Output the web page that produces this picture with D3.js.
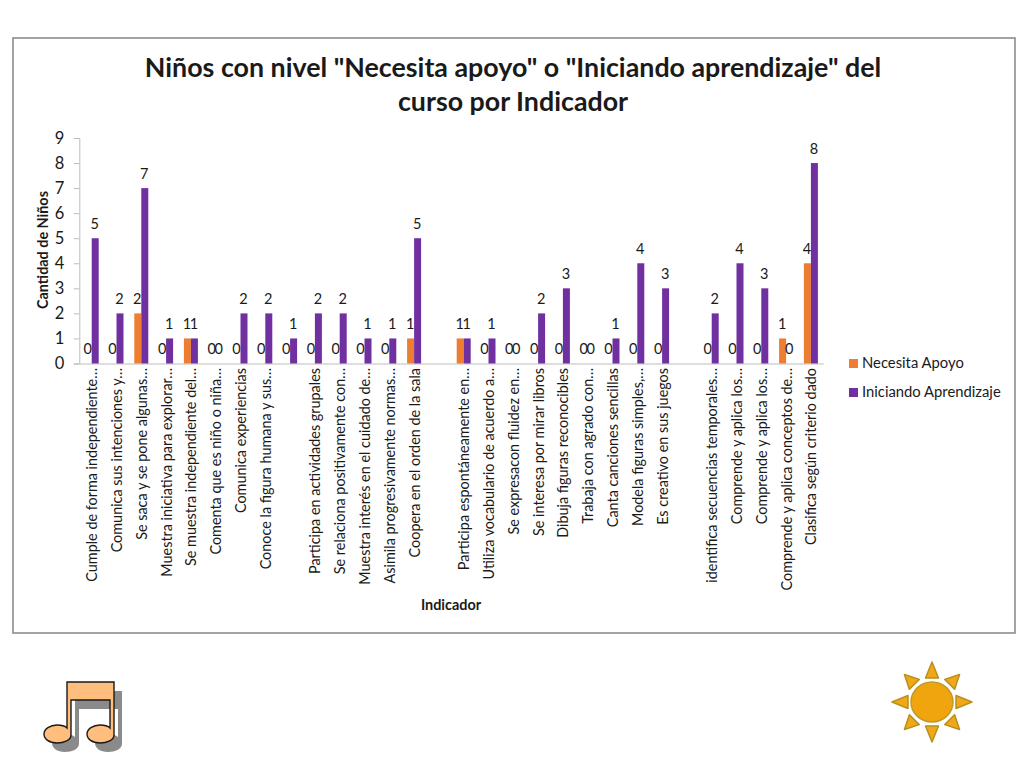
<!DOCTYPE html>
<html><head><meta charset="utf-8">
<script src="https://cdn.jsdelivr.net/npm/d3@7"></script>
<style>html,body{margin:0;padding:0;background:#fff}svg{display:block}text{font-family:Lato,"Open Sans",sans-serif;fill:#1a1a1a}</style>
</head><body><div id="c"></div>
<script>
const chartTitle = ['Niños con nivel "Necesita apoyo" o "Iniciando aprendizaje" del','curso por Indicador'];
const yTitle = 'Cantidad de Niños';
const xTitle = 'Indicador';
const seriesNames = ['Necesita Apoyo','Iniciando Aprendizaje'];
const seriesColors = ['#ED7D31','#7030A0'];
const categories = [
 'Cumple de forma independiente…','Comunica sus intenciones y…','Se saca y se pone algunas…','Muestra iniciativa para explorar…',
 'Se muestra independiente del…','Comenta que es niño o niña…','Comunica experiencias','Conoce la figura humana y sus…',' ',
 'Participa en actividades grupales','Se relaciona positivamente con…','Muestra interés en el cuidado de…','Asimila progresivamente normas…',
 'Coopera en el orden de la sala','  ','Participa espontáneamente en…','Utiliza vocabulario de acuerdo a…','Se expresacon fluidez en…',
 'Se interesa por mirar libros','Dibuja figuras reconocibles','Trabaja con agrado con…','Canta canciones sencillas','Modela figuras simples,…',
 'Es creativo en sus juegos','   ','identifica secuencias temporales…','Comprende y aplica los…','Comprende y aplica los… ','Comprende y aplica conceptos de…','Clasifica según criterio dado'];
const necesitaApoyo = [0,0,2,0,1,0,0,0,0,0,0,0,0,1,null,1,0,0,0,0,0,0,0,0,null,0,0,0,1,4];
const iniciandoAprendizaje = [5,2,7,1,1,0,2,2,1,2,2,1,1,5,null,1,1,0,2,3,0,1,4,3,null,2,4,3,0,8];
const yTicks = [0,1,2,3,4,5,6,7,8,9];

const svg = d3.select('#c').append('svg').attr('width',1024).attr('height',768);
svg.append('rect').attr('x',13).attr('y',38).attr('width',1002).attr('height',595).attr('fill','#fff').attr('stroke','#8c8c8c').attr('stroke-width',1.6);

const x = d3.scaleBand().domain(categories).range([79.3,823.3]);
const y = d3.scaleLinear().domain([0,9]).range([363.5,138]);
const barW = 7;
const axisColor = '#bdbdbd';

const title = svg.append('text').attr('text-anchor','middle').attr('font-weight',700).attr('font-size',26.8);
chartTitle.forEach((t,i)=>title.append('tspan').attr('x',513).attr('y',i?111:77).text(t));

const yAxis = svg.append('g').attr('transform','translate(79.3,0)').call(d3.axisLeft(y).tickValues(yTicks).tickSize(5.5).tickPadding(9.5).tickFormat(d3.format('d')));
yAxis.selectAll('path,line').attr('stroke',axisColor).attr('stroke-width',1);
yAxis.selectAll('text').attr('font-size',16.5).style('font-family','Lato').attr('fill','#1a1a1a');

const xAxis = svg.append('g').attr('transform','translate(0,363.5)').call(d3.axisBottom(x).tickSize(0).tickFormat(''));
xAxis.select('path').attr('stroke',axisColor).attr('stroke-width',1);

const series = [necesitaApoyo, iniciandoAprendizaje];
series.forEach((vals,s)=>{
  const g = svg.append('g');
  const rows = vals.map((v,i)=>({v,c:categories[i]})).filter(d=>d.v!==null);
  const bx = d => x(d.c)+x.bandwidth()/2 + (s===0?-barW:0);
  g.selectAll('rect').data(rows).join('rect')
    .attr('x',bx).attr('y',d=>y(d.v)).attr('width',barW).attr('height',d=>y(0)-y(d.v)).attr('fill',seriesColors[s]);
  g.selectAll('text').data(rows).join('text')
    .attr('x',d=>bx(d)+barW/2-0.5).attr('y',d=>y(d.v)-9.5).attr('text-anchor','middle').attr('font-size',14.5).text(d=>d.v);
});

svg.append('g').selectAll('text').data(categories).join('text')
  .attr('transform',d=>`translate(${x(d)+x.bandwidth()/2+5.5},368) rotate(-90)`)
  .attr('text-anchor','end').attr('font-size',14.4).text(d=>d.trim());

svg.append('text').attr('transform','translate(47.5,250) rotate(-90)').attr('text-anchor','middle').attr('font-weight',700).attr('font-size',14.4).text(yTitle);
svg.append('text').attr('x',451).attr('y',610).attr('text-anchor','middle').attr('font-weight',700).attr('font-size',14.4).text(xTitle);

const legend = svg.append('g').selectAll('g').data(seriesNames).join('g').attr('transform',(d,i)=>`translate(849,${359+i*29})`);
legend.append('rect').attr('width',9).attr('height',9).attr('fill',(d,i)=>seriesColors[i]);
legend.append('text').attr('x',13).attr('y',9).attr('font-size',14.8).text(d=>d);

// music note decoration
const music = svg.append('g');
const note = 'M67 682H114V735C114 740 107 743 100 743C92 743 87 739 87 734C87 729 93 725 100 725C104 725 108 726 110 728V700H71V735C71 740 64 743 57 743C49 743 44 739 44 734C44 729 50 725 57 725C61 725 65 726 67 728Z';
music.append('path').attr('d',note).attr('transform','translate(8,9)').attr('fill','#8a8a8a');
music.append('path').attr('d',note).attr('fill','#FFBE7D').attr('stroke','#1a1a1a').attr('stroke-width',1.4);

// sun decoration
const sun = svg.append('g').attr('transform','translate(932,702)');
d3.range(8).forEach(i=>{
  const r = i%2===0 ? 'M0 -40L-6.5 -24L6.5 -24Z' : 'M0 -39L-7 -25L7 -25Z';
  sun.append('path').attr('d',r).attr('transform',`rotate(${i*45})`).attr('fill','#F0A81A').attr('stroke','#B8901A').attr('stroke-width',1.5).attr('stroke-linejoin','round');
});
sun.append('ellipse').attr('rx',21).attr('ry',20).attr('fill','#F0A50F').attr('stroke','#BF9A2A').attr('stroke-width',1.5);
</script></body></html>
